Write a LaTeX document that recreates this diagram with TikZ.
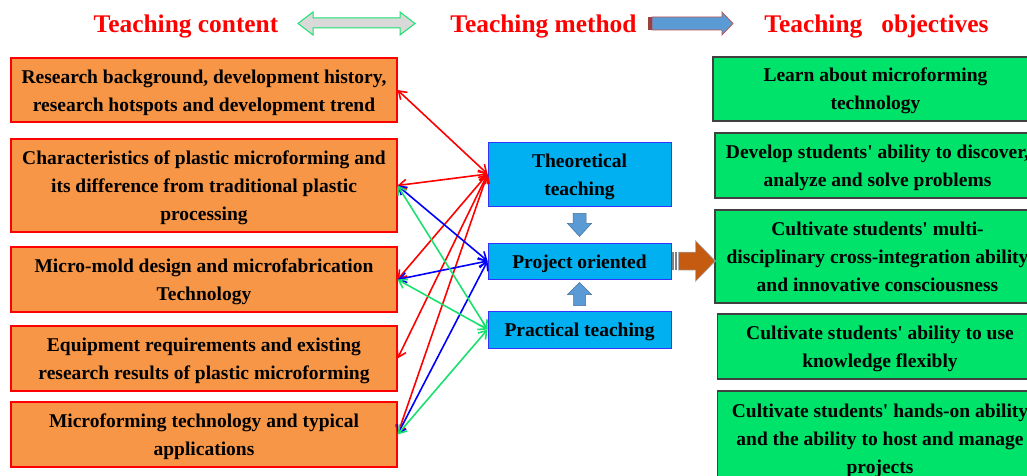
\documentclass[tikz,border=0pt]{standalone}
\usepackage{fontspec}
\setmainfont{Liberation Serif}
\usepackage{tikz}
\usetikzlibrary{arrows.meta}
\definecolor{contentfill}{HTML}{F79646}
\definecolor{methodfill}{HTML}{00B0F0}
\definecolor{methodline}{HTML}{3333FF}
\definecolor{goalfill}{RGB}{0,227,107}
\definecolor{goalline}{HTML}{404040}
\definecolor{steel}{HTML}{5B9BD5}
\definecolor{steelline}{HTML}{41719C}
\definecolor{rust}{HTML}{C55A11}
\definecolor{linkgreen}{RGB}{25,225,110}
\definecolor{darkred}{HTML}{C0504D}
\newcommand{\sq}{\textquotesingle}
\newcommand{\st}{\rule[-7pt]{0pt}{28pt}}

\begin{document}
\begin{tikzpicture}[x=1pt, y=-1pt, >={Straight Barb[length=7.5pt,width=10pt]},
	title/.style={anchor=base, text=red, font=\bfseries\fontsize{25.4}{30}\selectfont},
	boxtext/.style={align=center, inner sep=0pt, font=\bfseries\fontsize{19.5}{28}\selectfont},
	content/.style={boxtext, draw=red, line width=1.1pt, fill=contentfill, minimum width=386pt},
	method/.style={boxtext, draw=methodline, line width=0.9pt, fill=methodfill, minimum width=183pt},
	goal/.style={boxtext, draw=goalline, line width=1.2pt, fill=goalfill, minimum width=325pt},
	redlink/.style={<->, red, line width=1.6pt},
	bluelink/.style={<->, blue, line width=1.6pt},
	greenlink/.style={<->, linkgreen, line width=1.6pt},
	smallarrow/.style={fill=steel, draw=steelline, line width=0.5pt}]
		\useasboundingbox (0,0) rectangle (1027,476);
		\clip (0,0) rectangle (1027,476);
		\node[title] (tcont) at (186,33) {Teaching content};
		\node[title] (tmeth) at (543.5,33) {Teaching method};
		\node[title] (tobj) at (876.5,33) {Teaching\ \ \ objectives};
		\draw[fill=gray!30, draw=linkgreen, line width=1pt] (298,23.5) -- (313,12) -- (313,18) -- (400,18) -- (400,12) -- (415,23.5) -- (400,35) -- (400,28) -- (313,28) -- (313,35) -- cycle;
		\draw[fill=steel, draw=darkred, line width=0.7pt] (652,17) -- (722,17) -- (722,12) -- (733,23.5) -- (722,35) -- (722,30) -- (652,30) -- cycle;
		\fill[darkred!80!black] (648,17) rectangle (651.5,30);

		\node[content, minimum height=64pt] (C1) at (204,90) {\st Research background, development history,\\\st research hotspots and development trend};
		\node[content, minimum height=93pt] (C2) at (204,185.5) {\st Characteristics of plastic microforming and\\\st its difference from traditional plastic\\\st processing};
		\node[content, minimum height=65pt] (C3) at (204,279.5) {\st Micro-mold design and microfabrication\\\st Technology};
		\node[content, minimum height=65pt] (C4) at (204,358.5) {\st Equipment requirements and existing\\\st research results of plastic microforming};
		\node[content, minimum height=65pt] (C5) at (204,434.5) {\st Microforming technology and typical\\\st applications};

		\node[method, minimum height=64pt] (T) at (579.5,174) {\st Theoretical\\\st teaching};
		\node[method, minimum height=36pt] (P) at (579.5,261) {\st Project oriented};
		\node[method, minimum height=37pt] (Pr) at (579.5,329.5) {\st Practical teaching};

		\node[goal, minimum height=64pt] (G1) at (875.5,89) {\st Learn about microforming\\\st technology};
		\node[goal, minimum height=65pt] (G2) at (877.5,165.5) {\st Develop students\sq{} ability to discover,\\\st analyze and solve problems};
		\node[goal, minimum height=93pt] (G3) at (877.5,256.5) {\st Cultivate students\sq{} multi-\\\st disciplinary cross-integration ability\\\st and innovative consciousness};
		\node[goal, minimum height=65pt] (G4) at (880,346.5) {\st Cultivate students\sq{} ability to use\\\st knowledge flexibly};
		\node[goal, minimum height=94pt] (G5) at (880,438) {\st Cultivate students\sq{} hands-on ability\\\st and the ability to host and manage\\\st projects};

		\draw[redlink] (C1.east) -- (T.west);
		\draw[redlink] (C2.east) -- (T.west);
		\draw[redlink] (C3.east) -- (T.west);
		\draw[redlink] (C4.east) -- (T.west);
		\draw[redlink] (C5.east) -- (T.west);
		\draw[bluelink] (C2.east) -- (P.west);
		\draw[bluelink] (C3.east) -- (P.west);
		\draw[bluelink] (C5.east) -- (P.west);
		\draw[greenlink] (C2.east) -- (Pr.west);
		\draw[greenlink] (C3.east) -- (Pr.west);
		\draw[greenlink] (C5.east) -- (Pr.west);

		\draw[smallarrow] (T.south) ++(-6.5,7) -- ++(13,0) -- ++(0,10) -- ++(5.5,0) -- ++(-12,13) -- ++(-12,-13) -- ++(5.5,0) -- cycle;
		\draw[smallarrow] (Pr.north) ++(-6,-5) -- ++(12,0) -- ++(0,-11) -- ++(6,0) -- ++(-12,-12) -- ++(-12,12) -- ++(6,0) -- cycle;
		\fill[gray] (P.east) ++(1,-9) rectangle ++(2,18);
		\fill[gray] (P.east) ++(4,-9) rectangle ++(2,18);
		\draw[fill=rust, draw=steel!60, line width=0.5pt] (P.east) ++(7,-9) -- ++(17,0) -- ++(0,-11.5) -- ++(20,20.5) -- ++(-20,20.5) -- ++(0,-11.5) -- ++(-17,0) -- cycle;
\end{tikzpicture}
\end{document}
